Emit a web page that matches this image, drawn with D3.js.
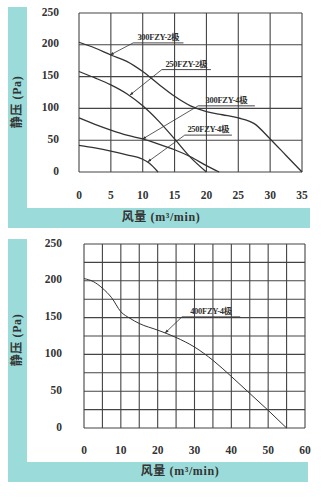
<!DOCTYPE html>
<html><head><meta charset="utf-8">
<script src="https://cdn.jsdelivr.net/npm/d3@7"></script>
<style>
body{margin:0;background:#fff;}
svg{display:block;}
text{font-family:"Liberation Serif","Noto Sans CJK SC",serif;font-weight:bold;fill:#333;}
</style></head><body>
<svg id="c" width="328" height="504"></svg>
<script>
// ---------- data ----------
const topXTicks = [0,5,10,15,20,25,30,35];
const topYTicks = [0,50,100,150,200,250];
const botXTicks = [0,10,20,30,40,50,60];
const botYTicks = [0,50,100,150,200,250];
const xTitle = "风量 (m³/min)";
const yTitle = "静压 (Pa)";

const s300FZY2 = [[0,204],[2.5,195],[5,184],[7.5,174],[10,158],[12.5,138],[15,119],[17.5,104],[20,95],[22.5,90],[25,85],[27.5,76],[30,52],[32.5,26],[35,0]];
const s250FZY2 = [[0,158],[2.5,148],[5,137],[7.5,123],[10,104],[12.5,80],[15,52],[17.5,23],[20,0]];
const s300FZY4 = [[0,85],[2.5,75],[5,66],[7.5,58],[10,52],[12.5,44],[15,35],[17.5,24],[20,10],[22,0]];
const s250FZY4 = [[0,42],[2.5,38],[5,33],[7.5,27],[10,20],[11,14],[12.4,0]];
const s400FZY4 = [[0,203],[2.5,199],[5,190],[7.5,177],[10,158],[12.5,149],[15,142],[20,133],[25,123],[30,110],[35,92],[40,70],[45,47],[50,24],[55,0]];

const topNames = ["300FZY-2极","250FZY-2极","300FZY-4极","250FZY-4极"];
const botNames = ["400FZY-4极"];
// annotation anchors in data units: [tipX, tipY, labelX, labelY, underlineEndX]
const topNotes = [[4.9,184,8.5,203,16.4],[8.0,121,13.0,161,20.7],[10.0,52,18.7,104,27.6],[10.8,16,16.6,58,24.0]];
const botNotes = [[22,129,26.6,151,42.4]];

const teal = "#9bdcda";
const svg = d3.select("#c");
const defs = svg.append("defs");
defs.append("marker").attr("id","arr").attr("viewBox","0 0 10 10").attr("refX",9).attr("refY",5)
  .attr("markerWidth",5).attr("markerHeight",5).attr("orient","auto")
  .append("path").attr("d","M0,1.5L10,5L0,8.5Z").attr("fill","#333");

function panel(o){
  const g = svg.append("g");
  // teal frame
  g.append("rect").attr("x",o.fx).attr("y",o.fy).attr("width",19).attr("height",o.fb-o.fy).attr("fill",teal);
  g.append("rect").attr("x",o.fx).attr("y",o.fb-20).attr("width",o.fr-o.fx).attr("height",20).attr("fill",teal);

  const x = d3.scaleLinear().domain(o.xd).range([o.l,o.r]);
  const y = d3.scaleLinear().domain([0,250]).range([o.b,o.t]);

  // grid
  g.append("g").selectAll("line").data(d3.range(o.xd[0],o.xd[1]+0.01,5)).join("line")
    .attr("x1",d=>x(d)).attr("x2",d=>x(d)).attr("y1",o.t).attr("y2",o.b)
    .attr("stroke","#444").attr("stroke-width",1.1);
  g.append("g").selectAll("line").data(d3.range(0,250.01,o.ystep)).join("line")
    .attr("y1",d=>y(d)).attr("y2",d=>y(d)).attr("x1",o.l).attr("x2",o.r)
    .attr("stroke","#444").attr("stroke-width",1.1);

  // tick labels
  g.append("g").selectAll("text").data(o.xt).join("text")
    .attr("x",d=>x(d)).attr("y",o.xly).attr("text-anchor","middle").attr("dominant-baseline","middle")
    .attr("font-size",11.5).text(d=>d);
  g.append("g").selectAll("text").data(o.yt).join("text")
    .attr("x",o.ylx).attr("y",d=>y(d)).attr("text-anchor","end").attr("dominant-baseline","middle")
    .attr("font-size",11.5).text(d=>d);

  // titles
  g.append("text").attr("x",o.xtx).attr("y",o.fb-10).attr("text-anchor","middle").attr("dominant-baseline","middle")
    .attr("font-size",12).attr("letter-spacing",0.6).text(xTitle);
  g.append("text").attr("transform",`translate(${o.fx+10},${o.yty}) rotate(-90)`).attr("text-anchor","middle")
    .attr("dominant-baseline","middle").attr("font-size",12).attr("letter-spacing",0.6).text(yTitle);

  // curves
  const line = d3.line().x(d=>x(d[0])).y(d=>y(d[1])).curve(d3.curveMonotoneX);
  o.series.forEach(s=>{
    g.append("path").attr("d",line(s)).attr("fill","none").attr("stroke","#333").attr("stroke-width",o.sw);
  });

  // annotations
  o.notes.forEach((n,i)=>{
    g.append("line").attr("x1",x(n[2])).attr("y1",y(n[3])).attr("x2",x(n[0])).attr("y2",y(n[1]))
      .attr("stroke","#333").attr("stroke-width",0.8).attr("marker-end","url(#arr)");
    g.append("line").attr("x1",x(n[2])).attr("y1",y(n[3])).attr("x2",x(n[4])).attr("y2",y(n[3]))
      .attr("stroke","#333").attr("stroke-width",0.9);
    g.append("text").attr("x",(x(n[2])+x(n[4]))/2).attr("y",y(n[3])-3).attr("text-anchor","middle")
      .attr("font-size",8.5).attr("letter-spacing",-0.3).text(o.names[i]);
  });
}

panel({fx:8,fy:7,fb:228,fr:310,l:79,r:302,t:13,b:172,xd:[0,35],ystep:50,xt:topXTicks,yt:topYTicks,
  xly:196,ylx:59,xtx:161,yty:102,series:[s300FZY2,s250FZY2,s300FZY4,s250FZY4],sw:1.3,notes:topNotes,names:topNames});
panel({fx:8,fy:239,fb:482,fr:308,l:84,r:305,t:244,b:428,xd:[0,60],ystep:25,xt:botXTicks,yt:botYTicks,
  xly:451,ylx:62,xtx:180,yty:340,series:[s400FZY4],sw:1,notes:botNotes,names:botNames});
</script>
</body></html>
